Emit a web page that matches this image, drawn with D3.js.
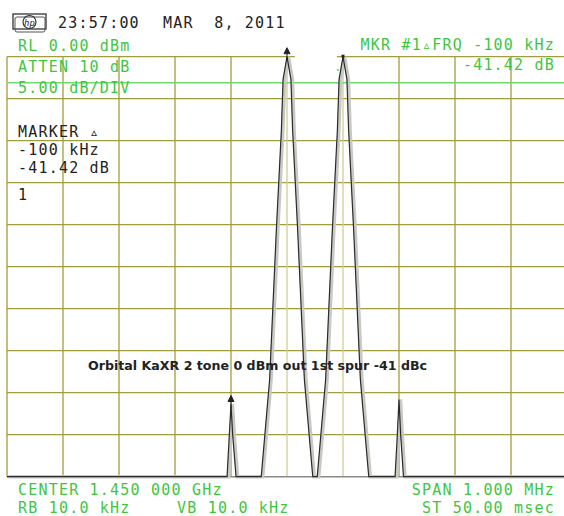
<!DOCTYPE html>
<html>
<head>
<script src="https://d3js.org/d3.v7.min.js"></script>
<style>
  body { margin: 0; background: #fff; }
  text { font-family: "DejaVu Sans Mono", monospace; font-size: 15px; letter-spacing: 1.2px; }
  .grn { fill: #3fc63f; }
  .blk { fill: #222; }
</style>
</head>
<body>
<div id="chart"></div>
<script>
// trace: offset from centre (kHz) and level (dB)
var freqKHz = [-500, -107, -103, -100, -97, -91,
               -46, -31, -19, -10, -7, 0, 7, 10, 19, 31, 46,
               54, 69, 81, 90, 93, 100, 107, 110, 119, 131, 146,
               193, 197, 200, 203, 208, 500];
var levelDb = [-50, -50, -45, -41.4, -45, -50,
               -50, -38.4, -20.6, -8.7, -2.7, 0, -2.7, -8.7, -20.6, -38.4, -50,
               -50, -38.4, -20.6, -8.7, -2.7, 0, -2.7, -8.7, -20.6, -38.4, -50,
               -50, -45, -40.8, -45, -50, -50];
var xTicks = d3.range(-500, 501, 100);
var yTicks = d3.range(-50, 1, 5);
var lightCols = [0, 100];          // vertical lines drawn paler
var displayLine = -3.1;
var markerFreqs = [0, -100];
var markerLevels = [0, -41.4];

var headerLeft = ["RL 0.00 dBm", "ATTEN 10 dB", "5.00 dB/DIV"];
var markerBlock = ["MARKER \u25B5", "-100 kHz", "-41.42 dB", "1"];
var topRight = ["MKR #1\u25B5FRQ -100 kHz", "-41.42 dB"];
var bottomLeft = ["CENTER 1.450 000 GHz", "RB 10.0 kHz"];
var bottomRight = ["SPAN 1.000 MHz", "ST 50.00 msec"];
var title = "Orbital KaXR 2 tone 0 dBm out 1st spur -41 dBc";

var w = 564, h = 516;
var svg = d3.select("#chart").append("svg").attr("width", w).attr("height", h);

var x = d3.scaleLinear().domain([-500, 500]).range([7, 567]);
var y = d3.scaleLinear().domain([-50, 0]).range([476.7, 56.7]);

var grid = svg.append("g");
grid.selectAll("line.h")
  .data(yTicks.filter(function(d) { return d > -50 && d < 0; }))
  .enter().append("line")
  .attr("x1", x(-500)).attr("x2", x(500))
  .attr("y1", function(d) { return y(d); }).attr("y2", function(d) { return y(d); })
  .attr("stroke", "#a39c3c").attr("stroke-width", 1.3);
grid.selectAll("line.v")
  .data(xTicks)
  .enter().append("line")
  .attr("x1", function(d) { return x(d); }).attr("x2", function(d) { return x(d); })
  .attr("y1", y(0)).attr("y2", y(-50))
  .attr("stroke", function(d) { return lightCols.indexOf(d) >= 0 ? "#d2cd98" : "#a39c3c"; })
  .attr("stroke-width", 1.3);
// top border has a gap between the two tones
[[-500, 14], [89, 500]].forEach(function(s) {
  grid.append("line")
    .attr("x1", x(s[0])).attr("x2", x(s[1]))
    .attr("y1", y(0)).attr("y2", y(0))
    .attr("stroke", "#a39c3c").attr("stroke-width", 1.3);
});
grid.append("line")
  .attr("x1", x(-500)).attr("x2", x(500))
  .attr("y1", y(-50)).attr("y2", y(-50))
  .attr("stroke", "#8a8a86").attr("stroke-width", 1.5);

// display line
svg.append("line")
  .attr("x1", x(-500)).attr("x2", x(500))
  .attr("y1", y(displayLine)).attr("y2", y(displayLine))
  .attr("stroke", "#6fdc6f").attr("stroke-width", 1.3);

// trace
var pts = freqKHz.map(function(f, i) { return [f, levelDb[i]]; });
var line = d3.line().x(function(d) { return x(d[0]); }).y(function(d) { return y(d[1]); });
svg.append("path").attr("d", line(pts))
  .attr("fill", "none").attr("stroke", "#c9c9c4").attr("stroke-width", 3.5)
  .attr("transform", "translate(1.5,0)");
svg.append("path").attr("d", line(pts))
  .attr("fill", "none").attr("stroke", "#2a2a2a").attr("stroke-width", 1.2);

// markers
markerFreqs.forEach(function(f, i) {
  var mx = x(f), my = y(markerLevels[i]) - 3;
  svg.append("path")
    .attr("d", "M" + mx + "," + (my - 6) + "l-3,6h6z M" + mx + "," + my + "v7")
    .attr("fill", "#222").attr("stroke", "#222").attr("stroke-width", 1);
});
svg.append("rect").attr("x", x(100) - 1.5).attr("y", y(0) - 2).attr("width", 3).attr("height", 3).attr("fill", "#222");
svg.append("line").attr("x1", x(89)).attr("x2", x(93)).attr("y1", 70).attr("y2", 70)
  .attr("stroke", "#3fc63f").attr("stroke-width", 1.3);

// header logo and time
var logo = svg.append("g");
logo.append("rect").attr("x", 13).attr("y", 14).attr("width", 33).attr("height", 15)
  .attr("fill", "none").attr("stroke", "#333").attr("stroke-width", 1.3);
logo.append("rect").attr("x", 15).attr("y", 17).attr("width", 30).attr("height", 15).attr("rx", 2)
  .attr("fill", "none").attr("stroke", "#555").attr("stroke-width", 1);
logo.append("circle").attr("cx", 29.5).attr("cy", 22).attr("r", 6.5)
  .attr("fill", "none").attr("stroke", "#333").attr("stroke-width", 1.2);
logo.append("text").attr("x", 29.5).attr("y", 25.5).attr("text-anchor", "middle")
  .style("font-size", "9px").style("letter-spacing", "0").style("font-style", "italic")
  .attr("class", "blk").text("hp");

svg.append("text").attr("class", "blk").attr("x", 58).attr("y", 28).text("23:57:00");
svg.append("text").attr("class", "blk").attr("x", 163).attr("y", 28).attr("xml:space", "preserve").text("MAR  8, 2011");

headerLeft.forEach(function(t, i) {
  svg.append("text").attr("class", "grn").attr("x", 18).attr("y", 51 + i * 21).text(t);
});
markerBlock.forEach(function(t, i) {
  var yy = [137, 155, 173, 200][i];
  svg.append("text").attr("class", "blk").attr("x", 18).attr("y", yy).text(t);
});
topRight.forEach(function(t, i) {
  svg.append("text").attr("class", "grn").attr("x", 555).attr("y", 50 + i * 20)
    .attr("text-anchor", "end").text(t);
});
bottomLeft.forEach(function(t, i) {
  svg.append("text").attr("class", "grn").attr("x", 18).attr("y", 495 + i * 18).text(t);
});
svg.append("text").attr("class", "grn").attr("x", 177).attr("y", 513).text("VB 10.0 kHz");
bottomRight.forEach(function(t, i) {
  svg.append("text").attr("class", "grn").attr("x", 555).attr("y", 495 + i * 18)
    .attr("text-anchor", "end").text(t);
});

svg.append("text")
  .attr("x", 88).attr("y", 370)
  .attr("textLength", 339).attr("lengthAdjust", "spacingAndGlyphs")
  .style("font-family", "'DejaVu Sans', sans-serif").style("font-size", "12px")
  .style("font-weight", "bold").style("letter-spacing", "0")
  .attr("fill", "#222").text(title);
</script>
</body>
</html>
